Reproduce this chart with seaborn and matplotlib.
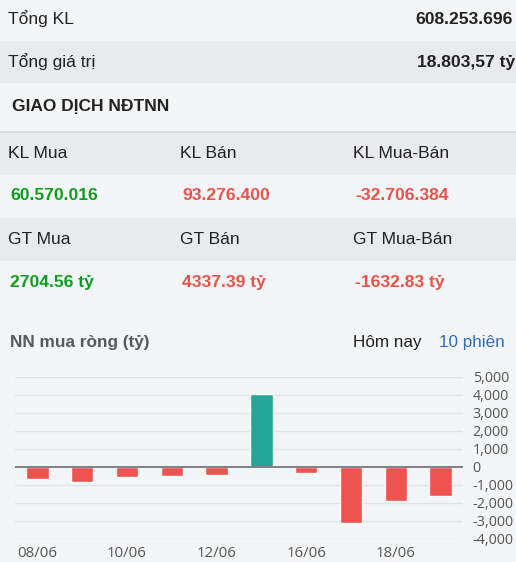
import matplotlib
matplotlib.use("Agg")
import matplotlib.pyplot as plt
import seaborn as sns
import pandas as pd
from matplotlib.patches import Rectangle
from matplotlib.lines import Line2D

# ---- data ----
dates = ["08/06", "09/06", "10/06", "11/06", "12/06", "15/06", "16/06", "17/06", "18/06", "19/06"]
net_buy = [-650, -850, -550, -480, -470, 4070, -350, -3120, -1880, -1633]
shown_dates = ["08/06", "10/06", "12/06", "16/06", "18/06"]
y_ticks = [5000, 4000, 3000, 2000, 1000, 0, -1000, -2000, -3000, -4000]

summary_labels = ["Tổng KL", "Tổng giá trị"]
summary_values = ["608.253.696", "18.803,57 tỷ"]
kl_headers = ["KL Mua", "KL Bán", "KL Mua-Bán"]
kl_values = ["60.570.016", "93.276.400", "-32.706.384"]
gt_headers = ["GT Mua", "GT Bán", "GT Mua-Bán"]
gt_values = ["2704.56 tỷ", "4337.39 tỷ", "-1632.83 tỷ"]

sns.set_theme(style="white")
plt.rcParams["font.family"] = ["Liberation Sans", "DejaVu Sans"]

W, H = 516, 562
BG = "#f4f5f7"
ROW = "#e8eaee"
GREEN = "#0e9e1f"
RED = "#e8534a"
DARK = "#222222"

fig = plt.figure(figsize=(W / 100, H / 100), dpi=100, facecolor=BG)

def fy(py):
    return 1 - py / H

def fx(px):
    return px / W

def band(y0, y1, color):
    fig.patches.append(Rectangle((0, fy(y1)), 1, (y1 - y0) / H, transform=fig.transFigure,
                                 facecolor=color, edgecolor="none", zorder=0))

band(41, 83, ROW)
band(133, 175, ROW)
band(218, 261, ROW)
fig.lines.append(Line2D([0, 1], [fy(131.5), fy(131.5)], transform=fig.transFigure,
                        color="#d5d8dd", lw=1.2))

fs = 12.6
fig.text(fx(8), fy(19), summary_labels[0], fontsize=fs, color=DARK, va="center")
fig.text(fx(513), fy(19), summary_values[0], fontsize=fs, color=DARK, va="center", ha="right", fontweight="bold")
fig.text(fx(8), fy(62), summary_labels[1], fontsize=fs, color=DARK, va="center")
fig.text(fx(515), fy(62), summary_values[1], fontsize=fs, color=DARK, va="center", ha="right", fontweight="bold")
fig.text(fx(12), fy(107), "GIAO DỊCH NĐTNN", fontsize=12.5, color=DARK, va="center", fontweight="bold")

cols = [8, 180, 353]
for i in range(3):
    fig.text(fx(cols[i]), fy(154), kl_headers[i], fontsize=fs, color=DARK, va="center")
    fig.text(fx(cols[i] + 2), fy(196), kl_values[i], fontsize=fs, va="center", fontweight="bold",
             color=GREEN if i == 0 else RED)
    fig.text(fx(cols[i]), fy(239), gt_headers[i], fontsize=fs, color=DARK, va="center")
    fig.text(fx(cols[i] + 2), fy(282), gt_values[i], fontsize=fs, va="center", fontweight="bold",
             color=GREEN if i == 0 else RED)

fig.text(fx(10), fy(343), "NN mua ròng (tỷ)", fontsize=12.4, color="#555a60", va="center", fontweight="bold")
fig.text(fx(353), fy(343), "Hôm nay", fontsize=12.3, color=DARK, va="center")
fig.text(fx(439), fy(343), "10 phiên", fontsize=12.3, color="#2d6cc0", va="center")

# ---- chart ----
ax = fig.add_axes([fx(15), fy(539), (463 - 15) / W, (539 - 377) / H])
ax.set_facecolor(BG)
df = pd.DataFrame({"date": dates, "value": net_buy})
df["sign"] = ["pos" if v > 0 else "neg" for v in net_buy]
sns.barplot(data=df, x="date", y="value", hue="sign", palette={"pos": "#26a69a", "neg": "#ef5350"},
            dodge=False, width=0.5, legend=False, ax=ax, zorder=3, saturation=1)
ax.set_ylim(-4000, 5000)
ax.set_xlim(-0.5, len(dates) - 0.5)
for t in y_ticks:
    if t != 0:
        ax.axhline(t, color="#e0e2e6", lw=1, zorder=1)
ax.axhline(0, color="#7d8087", lw=1.4, zorder=4)
for s in ax.spines.values():
    s.set_visible(False)
ax.yaxis.tick_right()
ax.set_yticks(y_ticks)
ax.set_yticklabels([f"{t:,}" for t in y_ticks])
ax.tick_params(axis="y", length=0, pad=7)
ax.set_xticks([dates.index(d) for d in shown_dates])
ax.set_xticklabels(shown_dates)
ax.tick_params(axis="x", length=0, pad=5)
for lab in ax.get_yticklabels():
    lab.set_horizontalalignment("left")
    lab.set_fontfamily("Open Sans")
    lab.set_fontsize(10.3)
    lab.set_color("#555555")
for lab in ax.get_xticklabels():
    lab.set_fontfamily("Open Sans")
    lab.set_fontsize(10.8)
    lab.set_color("#555555")
ax.set_xlabel("")
ax.set_ylabel("")

fig.savefig("out.png", dpi=100, facecolor=BG)
